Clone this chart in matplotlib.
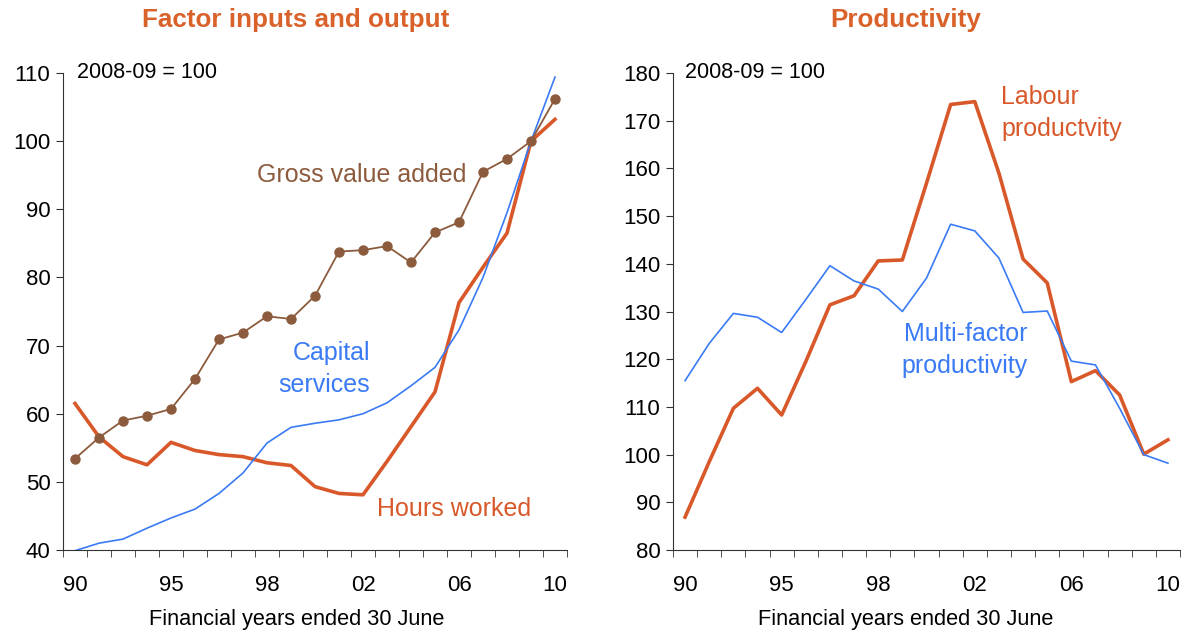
import matplotlib
matplotlib.use("Agg")
import matplotlib.pyplot as plt

plt.rcParams['font.family'] = ['Liberation Sans', 'DejaVu Sans']

# Financial years 1990 .. 2010 (category axis)
years = list(range(1990, 2011))
tick_labels = ['90', '95', '98', '02', '06', '10']

# Left panel: factor inputs and output (2008-09 = 100)
gross_value_added = [53.4, 56.5, 59.0, 59.7, 60.7, 65.1, 70.9, 71.9, 74.3, 73.9, 77.3,
                     83.8, 84.0, 84.6, 82.2, 86.6, 88.1, 95.5, 97.4, 100.0, 106.2]
hours_worked = [61.5, 56.6, 53.7, 52.5, 55.8, 54.6, 54.0, 53.7, 52.8, 52.4, 49.3,
                48.3, 48.1, 53.0, 58.1, 63.2, 76.3, 81.5, 86.5, 100.0, 103.2]
capital_services = [39.9, 41.0, 41.6, 43.2, 44.7, 46.0, 48.3, 51.3, 55.7, 58.0, 58.6,
                    59.1, 60.0, 61.6, 64.1, 66.8, 72.3, 80.0, 89.5, 100.0, 109.4]

# Right panel: productivity (2008-09 = 100)
labour_productivity = [86.9, 98.5, 109.7, 113.9, 108.3, 119.5, 131.4, 133.3, 140.6, 140.8, 156.9,
                       173.4, 174.0, 159.0, 141.0, 136.0, 115.3, 117.6, 112.5, 100.1, 103.1]
mfp = [115.5, 123.3, 129.6, 128.8, 125.6, 132.5, 139.6, 136.4, 134.7, 130.0, 137.0,
       148.3, 146.9, 141.2, 129.8, 130.1, 119.6, 118.8, 109.7, 100.0, 98.2]

orange = '#D8582A'
blue = '#3A7BF5'
brown = '#8C5B3D'
title_col = '#D9622B'

x = list(range(len(years)))

fig = plt.figure(figsize=(11.82, 6.35), dpi=100)
ax1 = fig.add_axes([63 / 1182, 85 / 635, 504 / 1182, 477 / 635])
ax2 = fig.add_axes([673 / 1182, 85 / 635, 507 / 1182, 477 / 635])


def style_axis(ax, ylo, yhi):
    ax.set_xlim(-0.5, len(years) - 0.5)
    ax.set_ylim(ylo, yhi)
    ax.spines['top'].set_visible(False)
    ax.spines['right'].set_visible(False)
    ax.spines['left'].set_color('#333333')
    ax.spines['bottom'].set_color('#333333')
    ax.set_yticks(range(ylo, yhi + 1, 10))
    ax.tick_params(axis='y', direction='out', length=5, labelsize=16, pad=4, color='#333333')
    ax.set_xticks([0, 4, 8, 12, 16, 20])
    ax.set_xticklabels(tick_labels)
    ax.set_xticks([i - 0.5 for i in range(len(years) + 1)], minor=True)
    ax.tick_params(axis='x', which='major', length=0, labelsize=16, pad=18)
    ax.tick_params(axis='x', which='minor', direction='out', length=5, color='#333333')


ax1.plot(x, capital_services, color=blue, lw=1.2, zorder=3)
ax1.plot(x, hours_worked, color=orange, lw=2.6, zorder=2)
ax1.plot(x, gross_value_added, color=brown, lw=1.3, marker='o', markersize=6.5, zorder=4)
style_axis(ax1, 40, 110)
ax1.text(0.028, 1.0, '2008-09 = 100', transform=ax1.transAxes, fontsize=15.5, va='center', ha='left')
ax1.text(16.3, 95.1, 'Gross value added', color=brown, fontsize=18, ha='right', va='center')
ax1.text(12.3, 66.6, 'Capital\nservices', color=blue, fontsize=18, ha='right', va='center',
         multialignment='right', linespacing=1.4)
ax1.text(15.8, 46.0, 'Hours worked', color=orange, fontsize=18, ha='center', va='center')

ax2.plot(x, mfp, color=blue, lw=1.2, zorder=3)
ax2.plot(x, labour_productivity, color=orange, lw=2.6, zorder=2)
style_axis(ax2, 80, 180)
ax2.text(0.024, 1.0, '2008-09 = 100', transform=ax2.transAxes, fontsize=15.5, va='center', ha='left')
ax2.text(13.1, 171.6, 'Labour\nproductvity', color=orange, fontsize=18, ha='left', va='center',
         linespacing=1.4)
ax2.text(14.2, 121.9, 'Multi-factor\nproductivity', color=blue, fontsize=18, ha='right', va='center',
         multialignment='right', linespacing=1.4)

fig.text(296 / 1182, 1 - 20 / 635, 'Factor inputs and output', color=title_col, fontsize=18.7,
         fontweight='bold', ha='center', va='center')
fig.text(906 / 1182, 1 - 20 / 635, 'Productivity', color=title_col, fontsize=18.7,
         fontweight='bold', ha='center', va='center')
fig.text(297 / 1182, 1 - 620 / 635, 'Financial years ended 30 June', fontsize=15.7,
         ha='center', va='center')
fig.text(906 / 1182, 1 - 620 / 635, 'Financial years ended 30 June', fontsize=15.7,
         ha='center', va='center')

fig.savefig('out.png', dpi=100)
